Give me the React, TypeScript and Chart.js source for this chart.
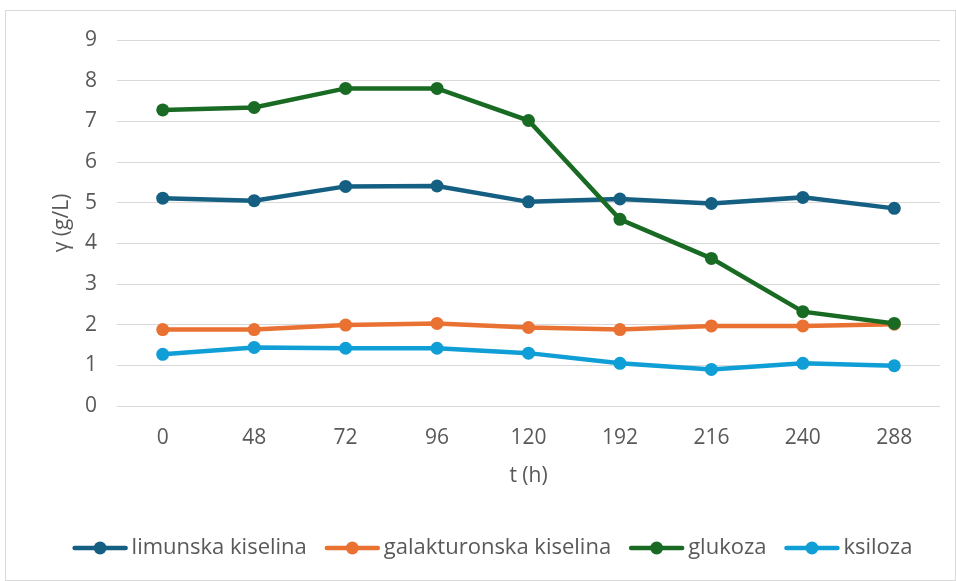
import React, { useEffect, useRef } from "react";
import { Chart, registerables } from "chart.js";

Chart.register(...registerables);

const categories = ["0", "48", "72", "96", "120", "192", "216", "240", "288"];
const limunska = [5.11, 5.05, 5.4, 5.41, 5.02, 5.09, 4.98, 5.13, 4.86];
const galakturonska = [1.88, 1.88, 1.99, 2.03, 1.93, 1.88, 1.97, 1.97, 2.01];
const glukoza = [7.28, 7.34, 7.81, 7.81, 7.02, 4.59, 3.63, 2.32, 2.03];
const ksiloza = [1.27, 1.44, 1.42, 1.42, 1.3, 1.05, 0.9, 1.05, 0.99];

const seriesNames = ["limunska kiselina", "galakturonska kiselina", "glukoza", "ksiloza"];
const seriesColors = ["#156082", "#E97132", "#196B24", "#0F9ED5"];
const seriesData = [limunska, galakturonska, glukoza, ksiloza];

const FONT = "'Open Sans', 'Liberation Sans', sans-serif";
const TEXT = "#595959";

const legendPlugin = {
  id: "customLegend",
  afterDraw(chart: any) {
    const ctx = chart.ctx;
    const fontSize = 22;
    ctx.save();
    ctx.font = `${fontSize}px ${FONT}`;
    const lineW = 55;
    const gapText = 4;
    const gapItem = 18;
    const widths = seriesNames.map((n) => ctx.measureText(n).width);
    let total = 0;
    widths.forEach((w, i) => {
      total += lineW + gapText + w + (i < widths.length - 1 ? gapItem : 0);
    });
    let x = (chart.width - total) / 2 + 12;
    const y = 537;
    seriesNames.forEach((name, i) => {
      ctx.strokeStyle = seriesColors[i];
      ctx.lineWidth = 4.5;
      ctx.lineCap = "round";
      ctx.beginPath();
      ctx.moveTo(x + 2, y);
      ctx.lineTo(x + lineW - 2, y);
      ctx.stroke();
      ctx.fillStyle = seriesColors[i];
      ctx.beginPath();
      ctx.arc(x + lineW / 2, y, 6.5, 0, Math.PI * 2);
      ctx.fill();
      ctx.fillStyle = TEXT;
      ctx.textBaseline = "middle";
      ctx.textAlign = "left";
      ctx.fillText(name, x + lineW + gapText, y);
      x += lineW + gapText + widths[i] + gapItem;
    });
    ctx.restore();
  },
};

export default function App() {
  const ref = useRef<HTMLCanvasElement | null>(null);
  useEffect(() => {
    if (!ref.current) return;
    const chart = new Chart(ref.current, {
      type: "line",
      data: {
        labels: categories,
        datasets: seriesData.map((d, i) => ({
          label: seriesNames[i],
          data: d,
          borderColor: seriesColors[i],
          backgroundColor: seriesColors[i],
          borderWidth: 4.5,
          pointRadius: 6.5,
          pointHoverRadius: 6.5,
          pointBorderWidth: 0,
          tension: 0,
          order: 3 - i,
        })),
      },
      options: {
        animation: false,
        responsive: false,
        maintainAspectRatio: false,
        layout: { padding: { left: 43, right: 15, top: 29, bottom: 74 } },
        plugins: {
          legend: { display: false },
          tooltip: { enabled: false },
        },
        scales: {
          x: {
            offset: true,
            grid: { display: false, drawTicks: false },
            border: { display: false },
            ticks: { color: TEXT, font: { family: FONT, size: 21 }, padding: 19, maxRotation: 0, autoSkip: false },
            title: {
              display: true,
              text: "t (h)",
              color: TEXT,
              font: { family: FONT, size: 21 },
              padding: { top: 0, bottom: 17 },
            },
            afterFit(scale: any) {
              scale.height = 100;
              scale.paddingLeft = 0;
              scale.paddingRight = 0;
            },
          },
          y: {
            min: 0,
            max: 9,
            ticks: { stepSize: 1, color: TEXT, font: { family: FONT, size: 21 }, padding: 20 },
            grid: { color: "#d9d9d9", lineWidth: 1, drawTicks: false },
            border: { display: false },
            title: {
              display: true,
              text: "γ (g/L)",
              color: TEXT,
              font: { family: FONT, size: 21 },
              padding: { top: 0, bottom: 0 },
            },
            afterFit(scale: any) {
              scale.width = 68;
              scale.paddingTop = 0;
              scale.paddingBottom = 0;
            },
          },
        },
      },
      plugins: [legendPlugin],
    });
    return () => chart.destroy();
  }, []);
  return (
    <div
      style={{
        position: "absolute",
        left: 5,
        top: 10,
        width: 951,
        height: 571,
        border: "1px solid #d9d9d9",
        boxSizing: "border-box",
        background: "#fff",
      }}
    >
      <canvas ref={ref} width={949} height={569} style={{ display: "block" }} />
    </div>
  );
}
